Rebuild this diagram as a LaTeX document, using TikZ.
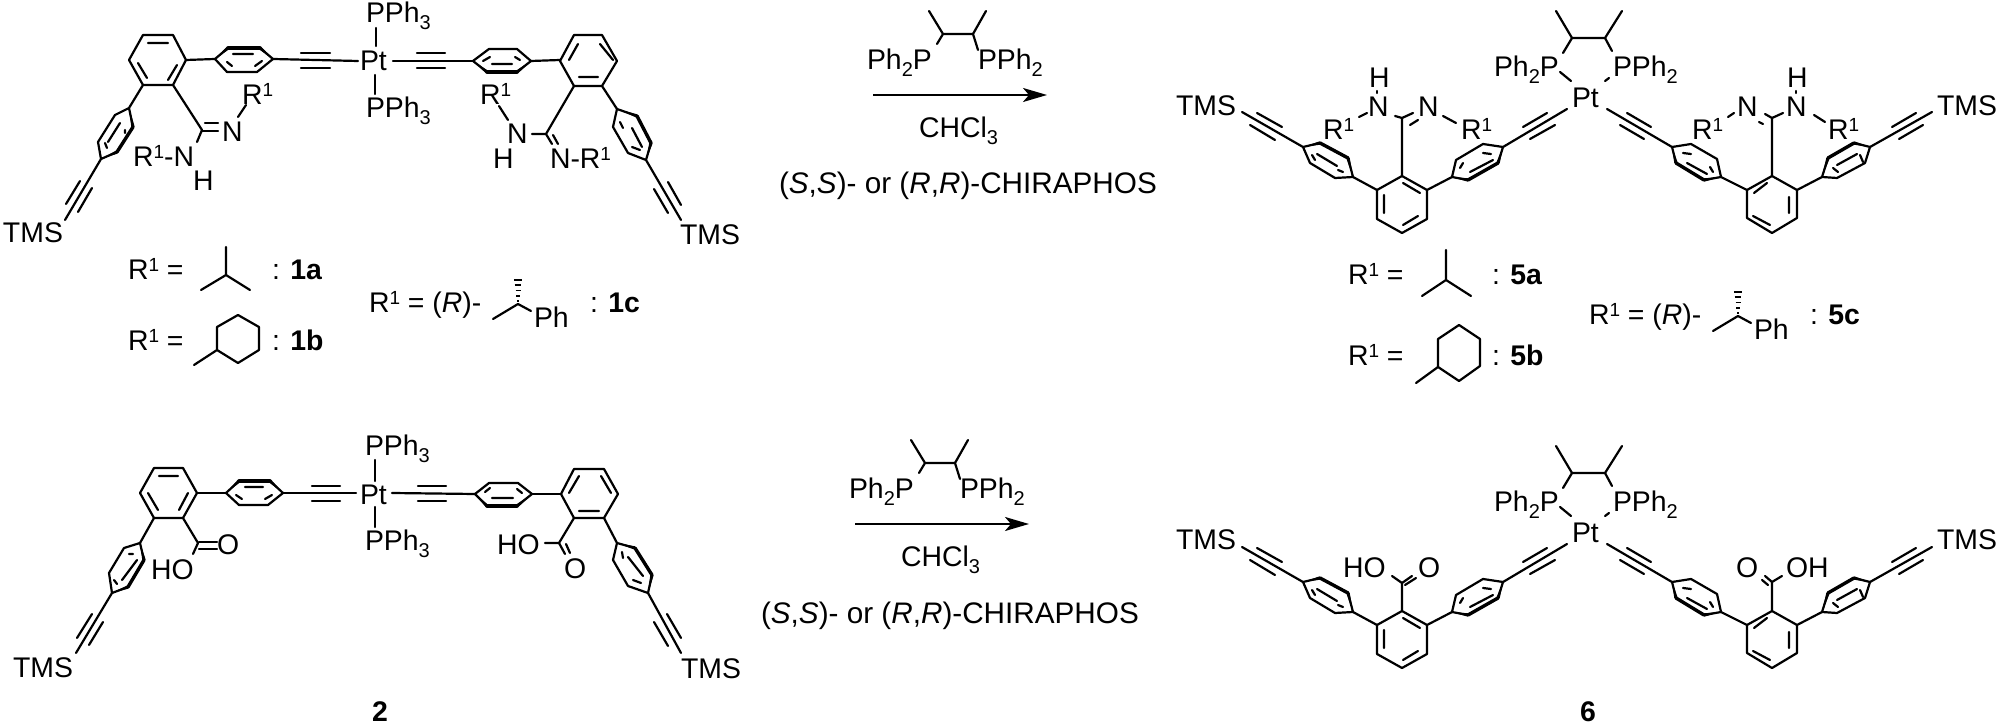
\documentclass[tikz,border=0pt]{standalone}
\usepackage{fontspec}
\setmainfont{Liberation Sans}
\usetikzlibrary{calc,arrows.meta}
\tikzset{
  bond/.style={line width=1.1pt,line cap=round,line join=round},
  lab/.style={anchor=base west,inner sep=0pt,outer sep=0pt,font=\fontsize{14.2}{16}\selectfont},
  cond/.style={lab,font=\fontsize{14.85}{16}\selectfont},
  rxn/.style={line width=1.1pt,-{Stealth[length=12pt,width=7pt,inset=3pt]}}
}
\newcommand{\sbs}[1]{\raisebox{-3.4pt}{\fontsize{10}{10}\selectfont #1}}
\newcommand{\spo}{\raisebox{4.2pt}{\fontsize{9.5}{10}\selectfont 1}}
\newcommand{\Rone}{R\spo}
% phenyl: a-b wedge, b-c heavy, c-d wedge, d-e-f-a thin
\newcommand{\phen}[6]{%
  \coordinate (qa) at #1; \coordinate (qb) at #2; \coordinate (qc) at #3;
  \coordinate (qd) at #4; \coordinate (qe) at #5; \coordinate (qf) at #6;
  \draw[bond] (qa)--(qb)--(qc)--(qd)--(qe)--(qf)--cycle;
  \fill (qa)--($(qb)!.85pt!90:(qa)$)--($(qb)!.85pt!-90:(qa)$)--cycle;
  \fill (qd)--($(qc)!.85pt!90:(qd)$)--($(qc)!.85pt!-90:(qd)$)--cycle;
  \draw[line width=1.7pt,line cap=round] (qb)--(qc);
}
\newcommand{\hashup}[1]{%
  \foreach \i/\w in {0/1,1/1.7,2/2.5,3/3.3,4/4.2}{
    \draw[line width=.9pt] ($(#1)+(-\w,-\i*5.2-3)$)--($(#1)+(\w,-\i*5.2-3)$);}
}
% chiraphos reagent above the arrow
\newcommand{\reagent}{%
  \draw[bond] (929,11)--(943,34)--(973,34)--(986,11);
  \draw[bond] (943,34)--(937,44);
  \draw[bond] (973,34)--(978,50);
  \node[lab] (rp1) at (867,70) {Ph\sbs{2}P};
  \node[lab] (rp2) at (978,70) {PPh\sbs{2}};
  \coordinate (ra) at (873,95); \coordinate (rb) at (1047,95);
  \draw[rxn] (ra)--(rb);
  \node[lab] (rs) at (919,138) {CHCl\sbs{3}};
  \node[cond] (rc) at (779,194) {(\textit{S},\textit{S})- or (\textit{R},\textit{R})-CHIRAPHOS};
}
% cis-Pt(chiraphos) product core
\newcommand{\product}{%
  \draw[bond] (1556,11)--(1572,38)--(1605,38)--(1622,11);
  \draw[bond] (1572,38)--(1563,53);
  \draw[bond] (1605,38)--(1612,51);
  \node[lab] (pa) at (1494,77) {Ph\sbs{2}P};
  \node[lab] (pb) at (1613,77) {PPh\sbs{2}};
  \node[lab] (pt) at (1572,108) {Pt};
  \draw[bond] (1560,72)--(1571,81);
  \draw[bond] (1605,81)--(1609,78);
  % left arm
  \draw[bond] (1567,109)--(1503,147);
  \draw[bond] (1547,113)--(1523,127) (1555,125)--(1530,139);
  \phen{(1452,177)}{(1468,180)}{(1498,163)}{(1503,147)}{(1483,144)}{(1456,160)}
  \draw[bond] (1483,153)--(1491,154) (1470,172)--(1493,160) (1460,168)--(1463,163);
  \draw[bond] (1452,177)--(1427,190);
  \draw[bond] (1402,176)--(1427,190)--(1427,219)--(1402,233)--(1377,219)--(1377,190)--cycle;
  \draw[bond] (1403,183)--(1420,193) (1418,216)--(1403,225) (1384,213)--(1384,195);
  \draw[bond] (1377,190)--(1353,177);
  \phen{(1303,147)}{(1320,143)}{(1348,158)}{(1353,177)}{(1335,178)}{(1310,163)}
  \draw[bond] (1338,170)--(1343,172) (1317,154)--(1337,166) (1312,155)--(1315,160);
  \draw[bond] (1303,147)--(1242,112);
  \draw[bond] (1257,113)--(1282,127) (1250,125)--(1275,140);
  % right arm
  \draw[bond] (1607,109)--(1672,147);
  \draw[bond] (1627,113)--(1651,127) (1620,125)--(1644,139);
  \phen{(1672,147)}{(1676,163)}{(1704,180)}{(1721,177)}{(1717,159)}{(1691,144)}
  \draw[bond] (1683,153)--(1691,154) (1687,163)--(1707,174) (1710,167)--(1713,172);
  \draw[bond] (1721,177)--(1747,190);
  \draw[bond] (1772,176)--(1797,190)--(1797,218)--(1772,233)--(1747,218)--(1747,190)--cycle;
  \draw[bond] (1767,183)--(1754,193) (1753,216)--(1770,225) (1789,197)--(1789,213);
  \draw[bond] (1797,190)--(1822,177);
  \phen{(1822,177)}{(1828,158)}{(1854,143)}{(1870,147)}{(1865,163)}{(1837,178)}
  \draw[bond] (1833,168)--(1838,172) (1837,165)--(1857,154) (1860,155)--(1863,162);
  \draw[bond] (1870,147)--(1932,112);
  \draw[bond] (1892,127)--(1916,113) (1899,139)--(1923,125);
}
\newcommand{\chiralR}[1]{%
  \node[lab] (cr) at (369,313) {\Rone{} = (\textit{R})-};
  \draw[bond] (493,319)--(518,304)--(531,311);
  \coordinate (hc) at (518,304);
  \hashup{hc}
  \node[lab] (cph) at (534,328) {Ph};
  \node[lab] (cl) at (590,313) {: \textbf{#1}};
}
\begin{document}
\begin{tikzpicture}[x=.5pt,y=-.5pt]
\useasboundingbox (0,0) rectangle (2001,726);
\fill[white] (0,0) rectangle (2001,726);

%%% ---------- compound 1 ----------
\draw[bond] (143,35)--(173,35)--(186,60)--(173,85)--(143,85)--(129,60)--cycle;
\draw[bond] (148,43)--(168,43) (177,65)--(168,80) (138,63)--(147,78);
\draw[bond] (186,60)--(215,59);
\phen{(215,59)}{(228,48)}{(260,48)}{(273,59)}{(257,72)}{(227,72)}
\draw[bond] (233,54)--(253,54) (227,62)--(232,66) (255,66)--(262,61);
\draw[bond] (273,59)--(358,61);
\draw[bond] (301,53)--(330,53) (301,68)--(330,68);
\node[lab] (pt1) at (360,71) {Pt};
\node[lab] (pa1) at (366,23) {PPh\sbs{3}};
\node[lab] (pb1) at (366,118) {PPh\sbs{3}};
\draw[bond] (376,28)--(376,46) (375,75)--(375,94);
\draw[bond] (393,61)--(473,61);
\draw[bond] (417,53)--(445,53) (417,68)--(445,68);
\phen{(473,61)}{(487,72)}{(517,72)}{(531,61)}{(517,49)}{(489,49)}
\draw[bond] (483,61)--(490,57) (492,64)--(512,64) (515,57)--(520,60);
\draw[bond] (531,61)--(560,60);
\draw[bond] (574,35)--(602,35)--(617,61)--(602,86)--(574,86)--(560,61)--cycle;
\draw[bond] (569,60)--(578,44) (600,44)--(613,60) (579,77)--(598,77);
% left ortho groups
\draw[bond] (143,85)--(129,108);
\phen{(129,108)}{(133,127)}{(117,152)}{(101,159)}{(98,142)}{(115,115)}
\draw[bond] (120,123)--(108,142) (105,143)--(107,148) (125,130)--(125,133);
\draw[bond] (101,159)--(65,220);
\draw[bond] (80,181)--(66,204) (92,188)--(78,212);
\node[lab] (t1a) at (3,243) {TMS};
\draw[bond] (173,85)--(202,130)--(197,142);
\draw[bond] (202,131)--(218,131) (205,123)--(218,123);
\node[lab] (n1a) at (222,142) {N};
\draw[bond] (238,117)--(246,105);
\node[lab] (r1a) at (242,105) {\Rone};
\node[lab] (n1b) at (133,167) {\Rone-N};
\node[lab] (h1a) at (193,191) {H};
% right ortho groups
\draw[bond] (602,86)--(617,109);
\phen{(617,109)}{(637,116)}{(651,143)}{(646,160)}{(628,153)}{(613,127)}
\draw[bond] (632,128)--(642,147) (620,122)--(623,128) (632,147)--(640,150);
\draw[bond] (646,160)--(681,220);
\draw[bond] (668,182)--(681,205) (654,189)--(668,213);
\node[lab] (t1b) at (680,245) {TMS};
\draw[bond] (574,86)--(546,134)--(532,134);
\draw[bond] (546,134)--(552,144) (553,135)--(558,144);
\node[lab] (n1c) at (507,144) {N};
\node[lab] (h1b) at (493,169) {H};
\node[lab] (r1b) at (480,105) {\Rone};
\draw[bond] (499,106)--(508,120);
\node[lab] (n1d) at (550,169) {N-\Rone};
% legend 1
\node[lab] (l1a) at (128,280) {\Rone{} =};
\draw[bond] (226,247)--(226,275)--(201,290) (226,275)--(250,290);
\node[lab] (l1b) at (272,280) {: \textbf{1a}};
\node[lab] (l1c) at (128,351) {\Rone{} =};
\draw[bond] (238,315)--(259,327)--(259,350)--(238,363)--(217,350)--(217,327)--cycle (217,350)--(194,365);
\node[lab] (l1d) at (272,351) {: \textbf{1b}};
\chiralR{1c}

%%% ---------- reagents ----------
\reagent
\begin{scope}[shift={(-18,429)}]\reagent\end{scope}

%%% ---------- compound 5 ----------
\product
\node[lab] (t5a) at (1176,116) {TMS};
\node[lab] (t5b) at (1937,116) {TMS};
\draw[bond] (1402,176)--(1402,118)--(1395,116);
\draw[bond] (1402,118)--(1413,113) (1410,125)--(1418,120);
\node[lab] (n5a) at (1368,117) {N};
\node[lab] (h5a) at (1369,88) {H};
\draw[bond] (1377,91)--(1377,93);
\node[lab] (n5b) at (1418,117) {N};
\node[lab] (r5a) at (1323,140) {\Rone};
\node[lab] (r5b) at (1461,140) {\Rone};
\draw[bond] (1359,117)--(1367,113) (1443,116)--(1456,123);
\draw[bond] (1772,176)--(1772,118)--(1783,113);
\draw[bond] (1772,118)--(1765,114) (1763,124)--(1759,122);
\node[lab] (n5c) at (1737,117) {N};
\node[lab] (n5d) at (1786,117) {N};
\node[lab] (h5b) at (1787,88) {H};
\draw[bond] (1796,91)--(1796,93);
\node[lab] (r5c) at (1692,140) {\Rone};
\node[lab] (r5d) at (1828,140) {\Rone};
\draw[bond] (1728,117)--(1734,113) (1814,115)--(1825,122);
% legend 5
\node[lab] (l5a) at (1348,285) {\Rone{} =};
\draw[bond] (1446,250)--(1446,280)--(1422,296) (1446,280)--(1471,296);
\node[lab] (l5b) at (1492,285) {: \textbf{5a}};
\node[lab] (l5c) at (1348,366) {\Rone{} =};
\draw[bond] (1459,325)--(1480,339)--(1480,366)--(1459,381)--(1438,367)--(1438,339)--cycle (1438,367)--(1416,383);
\node[lab] (l5d) at (1492,366) {: \textbf{5b}};
\begin{scope}[shift={(1220,12)}]\chiralR{5c}\end{scope}

%%% ---------- compound 2 ----------
\draw[bond] (154,468)--(183,468)--(197,493)--(183,518)--(154,518)--(140,493)--cycle;
\draw[bond] (159,476)--(178,476) (188,493)--(179,510) (148,493)--(158,510);
\draw[bond] (197,493)--(226,493);
\phen{(226,493)}{(239,481)}{(270,481)}{(283,493)}{(268,505)}{(239,505)}
\draw[bond] (245,487)--(263,487) (236,495)--(242,499) (265,499)--(272,495);
\draw[bond] (283,493)--(356,493);
\draw[bond] (312,486)--(340,486) (312,501)--(340,501);
\node[lab] (pt2) at (360,504) {Pt};
\node[lab] (pa2) at (365,456) {PPh\sbs{3}};
\node[lab] (pb2) at (365,551) {PPh\sbs{3}};
\draw[bond] (375,460)--(375,481) (375,507)--(375,527);
\draw[bond] (392,493)--(475,494);
\draw[bond] (418,486)--(446,486) (418,501)--(446,501);
\phen{(475,494)}{(487,506)}{(517,506)}{(532,494)}{(518,483)}{(489,483)}
\draw[bond] (492,498)--(513,498) (485,492)--(490,488) (517,489)--(522,493);
\draw[bond] (532,494)--(561,494);
\draw[bond] (574,469)--(604,469)--(618,494)--(604,518)--(574,518)--(561,494)--cycle;
\draw[bond] (569,493)--(579,476) (601,476)--(611,493) (579,511)--(599,511);
% left ortho
\draw[bond] (183,518)--(198,543)--(193,554);
\draw[bond] (199,542)--(217,542) (199,549)--(217,549);
\node[lab] (o2a) at (217,554) {O};
\node[lab] (ho2a) at (151,579) {HO};
\draw[bond] (154,518)--(140,543);
\phen{(140,543)}{(144,560)}{(128,587)}{(112,593)}{(109,573)}{(124,548)}
\draw[bond] (137,560)--(122,580) (114,580)--(117,584) (129,554)--(133,554);
\draw[bond] (112,593)--(76,653);
\draw[bond] (92,614)--(77,638) (103,622)--(89,645);
\node[lab] (t2a) at (13,677) {TMS};
% right ortho
\draw[bond] (574,518)--(559,543)--(545,543);
\draw[bond] (559,543)--(565,554) (566,544)--(570,553);
\node[lab] (ho2b) at (497,554) {HO};
\node[lab] (o2b) at (564,578) {O};
\draw[bond] (604,518)--(617,543);
\phen{(617,543)}{(635,548)}{(652,575)}{(648,593)}{(628,586)}{(613,560)}
\draw[bond] (628,557)--(643,576) (622,552)--(623,558) (633,580)--(641,583);
\draw[bond] (648,593)--(681,653);
\draw[bond] (667,614)--(681,638) (654,622)--(668,646);
\node[lab] (t2b) at (681,678) {TMS};
\node[lab] (num2) at (372,721) {\textbf{2}};

%%% ---------- compound 6 ----------
\begin{scope}[shift={(0,435)}]\product\end{scope}
\node[lab] (t6a) at (1176,549) {TMS};
\node[lab] (t6b) at (1937,549) {TMS};
\draw[bond] (1402,610)--(1402,583)--(1392,576);
\draw[bond] (1402,583)--(1412,576) (1405,585)--(1416,578);
\node[lab] (ho6a) at (1343,577) {HO};
\node[lab] (o6a) at (1418,577) {O};
\draw[bond] (1772,610)--(1772,582)--(1782,576);
\draw[bond] (1772,582)--(1765,576) (1768,585)--(1762,580);
\node[lab] (o6b) at (1736,577) {O};
\node[lab] (oh6b) at (1786,577) {OH};
\node[lab] (num6) at (1580,721) {\textbf{6}};
\end{tikzpicture}
\end{document}
